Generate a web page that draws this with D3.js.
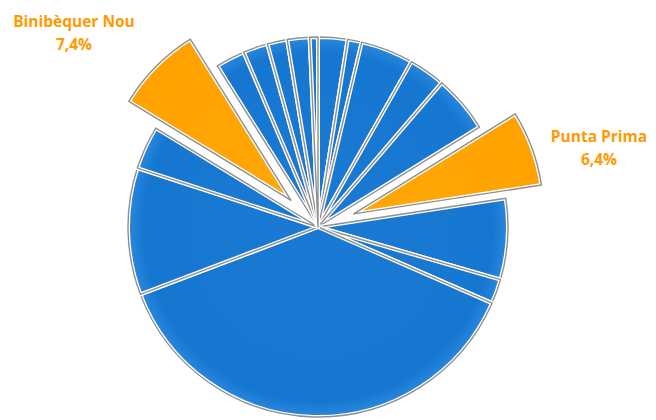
<!DOCTYPE html>
<html>
<head>
<meta charset="utf-8">
<script src="https://cdn.jsdelivr.net/npm/d3@7"></script>
<style>
  html, body { margin: 0; padding: 0; background: #fff; }
  svg { display: block; }
</style>
</head>
<body>
<svg id="chart" width="656" height="420"></svg>
<script>
// Data (share of total, %), clockwise from 12 o'clock
const categories = [
  "Zona 1", "Zona 2", "Zona 3", "Zona 4", "Zona 5",
  "Punta Prima",
  "Zona 7", "Zona 8", "Zona 9", "Zona 10", "Zona 11",
  "Binibèquer Nou",
  "Zona 13", "Zona 14", "Zona 15", "Zona 16", "Zona 17"
];
const values = [2.5, 1.2, 4.5, 3.1, 4.9, 6.4, 6.9, 2.1, 37.7, 10.8, 3.7, 7.4, 2.5, 2.1, 1.7, 1.9, 0.7];
const highlighted = ["Punta Prima", "Binibèquer Nou"];
const labelText = { "Punta Prima": ["Punta Prima", "6,4%"], "Binibèquer Nou": ["Binibèquer Nou", "7,4%"] };

const W = 656, H = 420;
const cx = 318, cy = 227, R = 190, explode = 38;
const textOrange = "#ff9a00";

const data = categories.map((c, i) => ({ name: c, value: values[i] }));

const svg = d3.select("#chart");
const defs = svg.append("defs");
const gBlue = defs.append("radialGradient").attr("id", "gBlue")
  .attr("gradientUnits", "userSpaceOnUse").attr("cx", 0).attr("cy", 0).attr("r", R);
gBlue.append("stop").attr("offset", "0%").attr("stop-color", "#1a7ad3");
gBlue.append("stop").attr("offset", "92%").attr("stop-color", "#1677d1");
gBlue.append("stop").attr("offset", "100%").attr("stop-color", "#2a88dc");
const gOr = defs.append("radialGradient").attr("id", "gOr")
  .attr("gradientUnits", "userSpaceOnUse").attr("cx", 0).attr("cy", 0).attr("r", R);
gOr.append("stop").attr("offset", "0%").attr("stop-color", "#ffa808");
gOr.append("stop").attr("offset", "100%").attr("stop-color", "#ffa200");

const pie = d3.pie().value(d => d.value).sort(null);
const arc = d3.arc().innerRadius(0).outerRadius(R);
const arcs = pie(data);

const g = svg.append("g").attr("transform", `translate(${cx},${cy})`);

const slices = g.selectAll("g.slice").data(arcs).join("g")
  .attr("class", "slice")
  .attr("transform", d => {
    if (!highlighted.includes(d.data.name)) return null;
    const m = (d.startAngle + d.endAngle) / 2;
    return `translate(${explode * Math.sin(m)},${-explode * Math.cos(m)})`;
  });

slices.append("path").attr("d", arc)
  .attr("fill", d => highlighted.includes(d.data.name) ? "url(#gOr)" : "url(#gBlue)")
  .attr("stroke", "#ffffff").attr("stroke-width", 4).attr("stroke-linejoin", "round");
slices.append("path").attr("d", arc)
  .attr("fill", "none")
  .attr("stroke", "#8f8f8f").attr("stroke-width", 1.4).attr("stroke-linejoin", "round");

// Labels
const labelPos = { "Punta Prima": [599, 142], "Binibèquer Nou": [74, 27] };
highlighted.forEach(name => {
  const [x, y] = labelPos[name];
  const t = svg.append("text").attr("x", x).attr("y", y)
    .attr("text-anchor", "middle")
    .attr("font-family", "'Open Sans', 'Liberation Sans', sans-serif")
    .attr("font-weight", "bold").attr("font-size", 15.5)
    .attr("fill", textOrange);
  t.append("tspan").attr("x", x).text(labelText[name][0]);
  t.append("tspan").attr("x", x).attr("dy", 22.5).text(labelText[name][1]);
});
</script>
</body>
</html>
